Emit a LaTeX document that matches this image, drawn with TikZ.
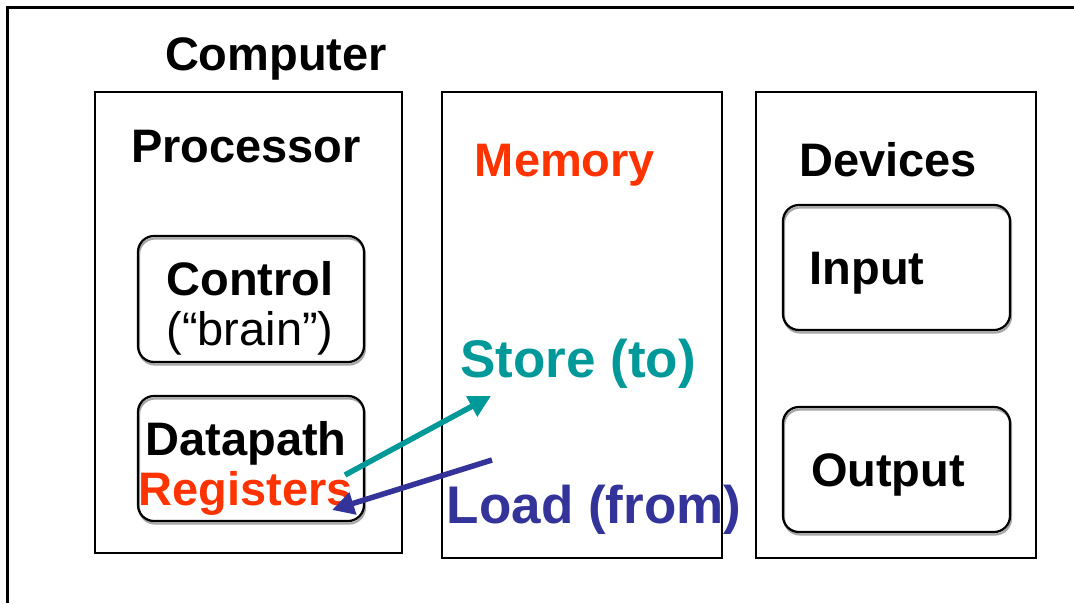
\documentclass[tikz,border=0pt]{standalone}
\usepackage{fontspec}
\setmainfont{Liberation Sans}
\usetikzlibrary{arrows.meta}
\definecolor{regred}{HTML}{FF3300}
\definecolor{storeteal}{HTML}{009999}
\definecolor{loadblue}{HTML}{333399}
\begin{document}
\begin{tikzpicture}[x=1pt,y=-1pt,
  bigtxt/.style={font=\fontsize{47}{50}\selectfont\bfseries, inner sep=0pt, anchor=base},
  hugetxt/.style={font=\fontsize{53}{56}\selectfont\bfseries, inner sep=0pt, anchor=base},
  regtxt/.style={font=\fontsize{47}{50}\selectfont, inner sep=0pt, anchor=base},
  unitbox/.style={draw=black, line width=2.2pt, rectangle, inner sep=0pt},
  partbox/.style={draw=black, line width=2.2pt, rectangle, rounded corners=16pt, inner sep=0pt},
  shadowbox/.style={draw=black!35, line width=2.2pt, rectangle, rounded corners=16pt, inner sep=0pt},
  flow/.style={line width=5.5pt, -{Triangle[length=22pt,width=22pt]}}
]
\useasboundingbox (0,0) rectangle (1074,603);
\fill[white] (0,0) rectangle (1074,603);
% outer frame (only top and left edges visible)
\draw[line width=3pt] (7,603) -- (7,7) -- (1074,7);

% texts
\node[bigtxt] (computer) at (276,70) {Computer};
\node[bigtxt] (processor) at (246,162) {Processor};
\node[bigtxt, text=regred] (memory) at (565,176) {Memory};
\node[bigtxt] (devices) at (888,176) {Devices};
\node[bigtxt] (control) at (250,295) {Control};
\node[regtxt] (brain) at (250,345) {(“brain”)};
\node[bigtxt] (datapath) at (246,455) {Datapath};
\node[bigtxt, text=regred] (registers) at (246,505) {Registers};
\node[bigtxt] (input) at (867,284) {Input};
\node[bigtxt] (output) at (888,486) {Output};
\node[hugetxt, text=storeteal] (store) at (578,377) {Store (to)};
\node[hugetxt, text=loadblue] (load) at (594,523) {Load (from)};

% boxes
\node[unitbox, minimum width=307pt, minimum height=461pt] (procbox) at (248.5,322.5) {};
\node[unitbox, minimum width=280pt, minimum height=466pt] (membox) at (582,325) {};
\node[unitbox, minimum width=280pt, minimum height=466pt] (devbox) at (896,325) {};
\node[shadowbox, minimum width=226pt, minimum height=126pt] at (252,301.5) {};
\node[partbox, minimum width=226pt, minimum height=126pt] (ctrlbox) at (251,299) {};
\node[shadowbox, minimum width=226pt, minimum height=125pt] at (252,461) {};
\node[partbox, minimum width=226pt, minimum height=125pt] (dpbox) at (251,458.5) {};
\node[shadowbox, minimum width=227pt, minimum height=125pt] at (897.5,270) {};
\node[partbox, minimum width=227pt, minimum height=125pt] (inbox) at (896.5,267.5) {};
\node[shadowbox, minimum width=227pt, minimum height=125pt] at (897.5,472) {};
\node[partbox, minimum width=227pt, minimum height=125pt] (outbox) at (896.5,469.5) {};

% arrows
\coordinate (storefrom) at (345,475);
\coordinate (storeto) at (491,396);
\coordinate (loadfrom) at (492,460);
\coordinate (loadto) at (332,510);
\draw[flow, storeteal] (storefrom) -- (storeto);
\draw[flow, loadblue] (loadfrom) -- (loadto);
\end{tikzpicture}
\end{document}
